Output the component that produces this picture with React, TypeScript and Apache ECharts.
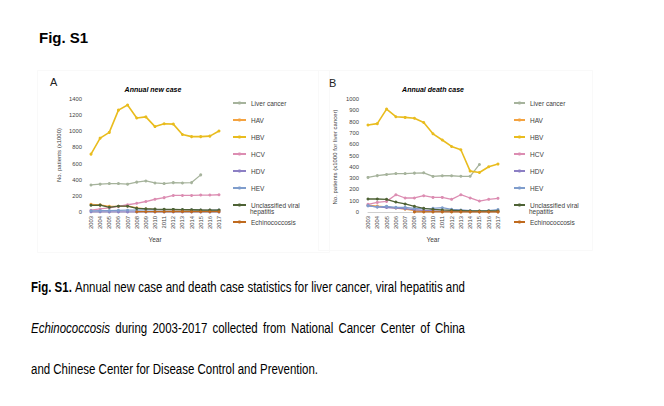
import React, { useEffect, useRef } from "react";
import * as echarts from "echarts";

const years = ["2003","2004","2005","2006","2007","2008","2009","2010","2011","2012","2013","2014","2015","2016","2017"];
const seriesNames = ["Liver cancer","HAV","HBV","HCV","HDV","HEV","Unclassified viral hepatitis","Echinococcosis"];
const seriesColors = ["#A6B39C","#F4A340","#E9BC1E","#DC8DB2","#8C7FC4","#7F9DCC","#4E6235","#BF6A1E"];

// Panel A: annual new cases (x1000)
const liverNew = [335, 345, 352, 352, 345, 370, 385, 360, 352, 364, 360, 364, 460, null, null];
const havNew = [95, 88, 70, 72, 75, 52, 38, 30, 27, 24, 22, 23, 22, 21, 19];
const hbvNew = [717, 915, 986, 1262, 1325, 1164, 1178, 1058, 1093, 1089, 961, 934, 934, 940, 1003];
const hcvNew = [22, 38, 52, 70, 90, 108, 130, 158, 178, 205, 205, 205, 210, 210, 214];
const hdvNew = [2, 2, 1, 1, 1, 1, 1, 1, 1, 1, 1, 1, 1, 1, 1];
const hevNew = [15, 17, 17, 20, 22, 24, 26, 28, 27, 28, 27, 28, 25, 23, 25];
const unclassNew = [83, 85, 58, 72, 72, 45, 40, 36, 33, 32, 30, 28, 25, 24, 24];
const echinoNew = [null, null, null, null, null, 3, 4, 4, 4, 5, 5, 4, 4, 4, 4];

// Panel B: annual death cases (x1000 for liver cancer)
const liverDeath = [306, 322, 332, 340, 340, 344, 347, 315, 321, 321, 316, 316, 421, null, null];
const havDeath = [60, 52, 45, 35, 25, 12, 8, 6, 5, 4, 3, 3, 2, 2, 2];
const hbvDeath = [770, 782, 911, 843, 837, 830, 792, 692, 637, 580, 551, 362, 350, 400, 424];
const hcvDeath = [68, 85, 94, 153, 124, 124, 144, 129, 129, 112, 153, 124, 97, 112, 121];
const hdvDeath = [55, 45, 40, 35, 30, 20, 15, 10, 8, 6, 5, 4, 3, 3, 3];
const hevDeath = [56, 44, 50, 41, 41, 32, 29, 32, 38, 24, 18, 12, 9, 12, 21];
const unclassDeath = [115, 115, 112, 88, 71, 50, 32, 24, 18, 15, 12, 9, 9, 9, 9];
const echinoDeath = [null, null, null, null, null, 1, 1, 1, 1, 1, 1, 1, 1, 1, 1];

const newData = [liverNew, havNew, hbvNew, hcvNew, hdvNew, hevNew, unclassNew, echinoNew];
const deathData = [liverDeath, havDeath, hbvDeath, hcvDeath, hdvDeath, hevDeath, unclassDeath, echinoDeath];

const FONT = '"Liberation Sans", Arial, sans-serif';

const captionLine1 = [
  { t: "Fig.", b: true }, { t: "S1.", b: true }, { t: "Annual" }, { t: "new" }, { t: "case" }, { t: "and" },
  { t: "death" }, { t: "case" }, { t: "statistics" }, { t: "for" }, { t: "liver" }, { t: "cancer," },
  { t: "viral" }, { t: "hepatitis" }, { t: "and" },
];
const captionLine2 = [
  { t: "Echinococcosis", i: true }, { t: "during" }, { t: "2003-2017" }, { t: "collected" }, { t: "from" },
  { t: "National" }, { t: "Cancer" }, { t: "Center" }, { t: "of" }, { t: "China" },
];
const captionLine3 = "and Chinese Center for Disease Control and Prevention.";

function measure(text: string, size: number, bold?: boolean, italic?: boolean) {
  const c = document.createElement("canvas").getContext("2d") as CanvasRenderingContext2D;
  c.font = `${italic ? "italic " : ""}${bold ? "bold " : ""}${size}px ${FONT}`;
  return c.measureText(text).width;
}

export default function App() {
  const ref = useRef<HTMLDivElement>(null);
  useEffect(() => {
    if (!ref.current) return;
    const chart = echarts.init(ref.current, null, { renderer: "svg" });

    const capSize = 14;
    const capLeft = 31;
    const capRight = 465;
    const sx = (318 - capLeft) / measure(captionLine3, capSize);

    const justify = (words: any[], y: number) => {
      const widths = words.map((w) => measure(w.t, capSize, w.b, w.i) * sx);
      const total = widths.reduce((a, b) => a + b, 0);
      const gap = (capRight - capLeft - total) / (words.length - 1);
      let x = capLeft;
      return words.map((w, k) => {
        const el = {
          type: "text", x, y, scaleX: sx, silent: true,
          style: {
            text: w.t, fontSize: capSize, fontFamily: FONT,
            fontWeight: w.b ? "bold" : "normal", fontStyle: w.i ? "italic" : "normal",
            fill: "#000", align: "left", verticalAlign: "middle",
          },
        };
        x += widths[k] + gap;
        return el;
      });
    };

    const txt = (text: string, x: number, y: number, opts: any = {}) => ({
      type: "text", x, y, silent: true, rotation: opts.rotation || 0,
      style: {
        text, fontSize: opts.fontSize || 6.5, fontFamily: FONT,
        fontWeight: opts.fontWeight || "normal", fontStyle: opts.fontStyle || "normal",
        fill: opts.fill || "#404040", align: opts.align || "center", verticalAlign: "middle",
      },
    });

    const mkSeries = (data: any[], idx: number) =>
      data.map((d, k) => ({
        name: seriesNames[k],
        type: "line",
        xAxisIndex: idx, yAxisIndex: idx,
        data: d,
        symbol: "circle", symbolSize: 3,
        lineStyle: { width: k === 2 ? 1.6 : 1.3, color: seriesColors[k] },
        itemStyle: { color: seriesColors[k] },
        z: 2 + k,
      }));

    const xAxisBase = (gi: number) => ({
      gridIndex: gi, type: "category", data: years, boundaryGap: false,
      axisLine: { lineStyle: { color: "#d0d0d0", width: 1 } },
      axisTick: { show: false },
      axisLabel: { rotate: 90, fontSize: 5.8, color: "#444", margin: 4, interval: 0, fontFamily: FONT },
    });
    const yAxisBase = (gi: number, max: number, interval: number, margin: number) => ({
      gridIndex: gi, type: "value", min: 0, max, interval,
      axisLine: { show: false }, axisTick: { show: false }, splitLine: { show: false },
      axisLabel: { fontSize: 5.8, color: "#444", margin, fontFamily: FONT, formatter: (v: number) => String(v) },
    });

    const legendBase = (left: number, itemWidth: number) => ({
      orient: "vertical", left, top: 99, padding: 0,
      itemWidth, itemHeight: 4, itemGap: 9, selectedMode: false,
      data: seriesNames,
      formatter: (n: string) => (n === "Unclassified viral hepatitis" ? "Unclassified viral" : n),
      textStyle: { fontSize: 6.5, lineHeight: 8, color: "#404040", fontFamily: FONT },
    });

    chart.setOption({
      animation: false,
      backgroundColor: "#ffffff",
      grid: [
        { left: 91, top: 99, width: 128, height: 113 },
        { left: 368, top: 99, width: 130, height: 113 },
      ],
      xAxis: [xAxisBase(0), xAxisBase(1)],
      yAxis: [yAxisBase(0, 1400, 200, 9), yAxisBase(1, 1000, 100, 9)],
      legend: [legendBase(232, 13), legendBase(513, 11)],
      series: [...mkSeries(newData, 0), ...mkSeries(deathData, 1)],
      graphic: [
        { type: "rect", silent: true, shape: { x: 37.5, y: 70.5, width: 292, height: 182 }, style: { fill: "none", stroke: "#f9f9f9", lineWidth: 1 } },
        { type: "rect", silent: true, shape: { x: 318.5, y: 70.5, width: 274, height: 180 }, style: { fill: "none", stroke: "#f9f9f9", lineWidth: 1 } },
        txt("Fig. S1", 39, 37, { fontSize: 15, fontWeight: "bold", fill: "#000", align: "left" }),
        txt("A", 50, 82, { fontSize: 11, fill: "#222", align: "left" }),
        txt("B", 329, 83, { fontSize: 11, fill: "#222", align: "left" }),
        txt("Annual new case", 153, 89, { fontSize: 7, fontWeight: "bold", fontStyle: "italic", fill: "#000" }),
        txt("Annual death case", 433, 89, { fontSize: 7, fontWeight: "bold", fontStyle: "italic", fill: "#000" }),
        txt("No. patients (x1000)", 59, 155, { fontSize: 6, rotation: Math.PI / 2 }),
        txt("No. patients (x1000 for liver cancer)", 335, 157, { fontSize: 6, rotation: Math.PI / 2 }),
        txt("Year", 155, 239, { fontSize: 6.5 }),
        txt("Year", 433, 239, { fontSize: 6.5 }),
        txt("hepatitis", 250, 211, { fontSize: 6.5, align: "left" }),
        txt("hepatitis", 529, 211, { fontSize: 6.5, align: "left" }),
        ...justify(captionLine1, 287),
        ...justify(captionLine2, 328),
        {
          type: "text", x: capLeft, y: 369.5, scaleX: sx, silent: true,
          style: { text: captionLine3, fontSize: capSize, fontFamily: FONT, fill: "#000", align: "left", verticalAlign: "middle" },
        },
      ],
    });
    return () => chart.dispose();
  }, []);
  return (
    <div
      ref={ref}
      style={{ position: "absolute", left: 0, top: 0, width: 664, height: 406, background: "#fff" }}
    />
  );
}
